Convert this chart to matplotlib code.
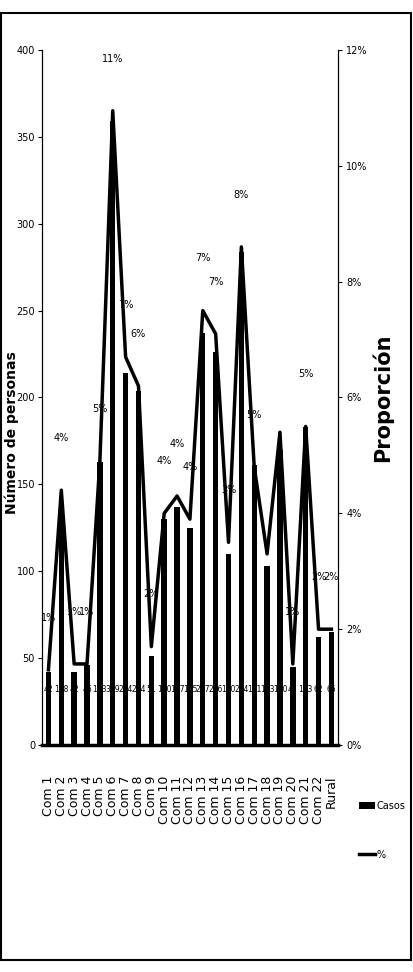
import matplotlib
matplotlib.use("Agg")
import matplotlib.pyplot as plt
from matplotlib.patches import Rectangle, Patch
from matplotlib.lines import Line2D

plt.rcParams["font.family"] = ["DejaVu Sans"]

categories = [f"Com {i}" for i in range(1, 23)] + ["Rural"]
casos = [42, 138, 42, 46, 163, 359, 214, 204, 51, 130, 137, 125,
         237, 226, 110, 284, 161, 103, 170, 45, 183, 62, 65]
# line values (%)
proporcion = [1.3, 4.4, 1.4, 1.4, 4.9, 10.95, 6.7, 6.2, 1.7, 4.0, 4.3, 3.9,
              7.5, 7.1, 3.5, 8.6, 4.8, 3.3, 5.4, 1.4, 5.5, 2.0, 2.0]
pct_labels = ["1%", "4%", "1%", "1%", "5%", "11%", "7%", "6%", "2%", "4%", "4%", "4%",
              "7%", "7%", "3%", "8%", "5%", "", "", "1%", "5%", "2%", "2%"]

fig = plt.figure(figsize=(4.13, 9.72), dpi=100)
ax = fig.add_axes([0.1017, 0.2335, 0.7163, 0.7151])
x = list(range(len(categories)))

ax.bar(x, casos, width=0.42, color="black", label="Casos", zorder=2)
ax.set_ylim(0, 400)
ax.set_yticks(range(0, 401, 50))
ax.set_xlim(-0.5, len(categories) - 0.5)
ax.set_xticks(x)
ax.set_xticklabels(categories, rotation=90, fontsize=9)
ax.tick_params(axis="y", labelsize=7, length=3, pad=2)
ax.tick_params(axis="x", length=0, pad=22)
ax.set_ylabel("Número de personas", fontsize=10, fontweight="bold")
ax.yaxis.set_label_coords(-0.078, 0.45)
ax.spines["top"].set_visible(False)
ax.spines["bottom"].set_linewidth(2.5)

for xi, v in zip(x, casos):
    ax.text(xi, 32, str(v), ha="center", va="center", fontsize=5.5, zorder=4)

ax2 = ax.twinx()
ax2.plot(x, [p / 100 for p in proporcion], color="black", linewidth=2.5, zorder=3)
ax2.set_ylim(0, 0.12)
ax2.set_yticks([i / 100 for i in range(0, 13, 2)])
ax2.set_yticklabels([f"{i}%" for i in range(0, 13, 2)])
ax2.tick_params(axis="y", labelsize=7, length=3, pad=3)
ax2.set_ylabel("Proporción", fontsize=15, fontweight="bold", rotation=90)
ax2.yaxis.set_label_coords(1.115, 0.5)
ax2.spines["top"].set_visible(False)

for xi, p, lab in zip(x, proporcion, pct_labels):
    if lab:
        ax2.text(xi, p / 100 + 0.009, lab, ha="center", va="center", fontsize=7)

handles = [Patch(facecolor="black", label="Casos"),
           Line2D([0], [0], color="black", linewidth=2.5, label="%")]
fig.legend(handles=handles, loc="upper left", bbox_to_anchor=(0.86, 0.18),
           frameon=False, fontsize=7, labelspacing=4.0, handlelength=1.6,
           handletextpad=0.2, borderaxespad=0)

fig.add_artist(Rectangle((0.003, 0.012), 0.992, 0.975, transform=fig.transFigure,
                         fill=False, edgecolor="black", linewidth=1.5))

fig.savefig("out.png", dpi=100)
